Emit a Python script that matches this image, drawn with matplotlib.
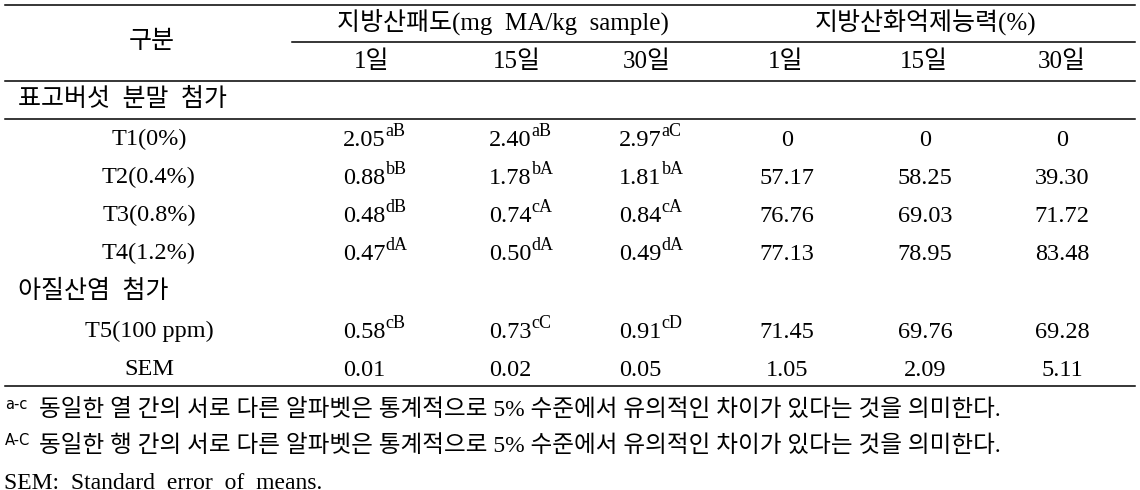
import matplotlib
matplotlib.use("Agg")
import matplotlib.pyplot as plt
from matplotlib.lines import Line2D

plt.rcParams['font.family'] = ['Liberation Serif', 'Noto Sans CJK KR']

W, H = 1140, 490

# ---- data ----
col_header_left = "구분"
group_headers = ["지방산패도(mg MA/kg sample)", "지방산화억제능력(%)"]
day_labels = ["1일", "15일", "30일", "1일", "15일", "30일"]
group_labels = ["표고버섯 분말 첨가", "아질산염 첨가"]
row_labels = ["T1(0%)", "T2(0.4%)", "T3(0.8%)", "T4(1.2%)", "T5(100 ppm)", "SEM"]

tbars_d1 = [2.05, 0.88, 0.48, 0.47, 0.58, 0.01]
tbars_d15 = [2.40, 1.78, 0.74, 0.50, 0.73, 0.02]
tbars_d30 = [2.97, 1.81, 0.84, 0.49, 0.91, 0.05]
sup_d1 = ["aB", "bB", "dB", "dA", "cB", ""]
sup_d15 = ["aB", "bA", "cA", "dA", "cC", ""]
sup_d30 = ["aC", "bA", "cA", "dA", "cD", ""]
inhib_d1 = [0, 57.17, 76.76, 77.13, 71.45, 1.05]
inhib_d15 = [0, 58.25, 69.03, 78.95, 69.76, 2.09]
inhib_d30 = [0, 39.30, 71.72, 83.48, 69.28, 5.11]

footnotes = [
    ("a-c", "동일한 열 간의 서로 다른 알파벳은 통계적으로 5% 수준에서 유의적인 차이가 있다는 것을 의미한다."),
    ("A-C", "동일한 행 간의 서로 다른 알파벳은 통계적으로 5% 수준에서 유의적인 차이가 있다는 것을 의미한다."),
    ("", "SEM: Standard error of means."),
]

EN = "\u2002"


def wide(s, sp=EN):
    return s.replace(" ", sp)


# ---- layout (pixels) ----
fig = plt.figure(figsize=(W / 100, H / 100), dpi=100)
fig.patch.set_facecolor("white")

FS_HEAD = 18
FS_ROW = 17.5
FS_NUM = 17.5
FS_SUP = 13
FS_NOTE = 17
FS_NOTE_LAT = 17


def fx(x):
    return x / W


def fy(y):
    return 1 - y / H


def hline(x0, x1, y, lw=1.1):
    fig.add_artist(Line2D([fx(x0), fx(x1)], [fy(y), fy(y)],
                          transform=fig.transFigure, color="black", lw=lw))


def txt(x, y, s, ha="center", va="center", size=FS_NUM, **kw):
    return fig.text(fx(x), fy(y), s, ha=ha, va=va, fontsize=size, color="black", **kw)


# rules
hline(5, 1135, 5)
hline(292, 1135, 42)
hline(5, 1135, 81)
hline(5, 1135, 119)
hline(5, 1135, 386)

# headers
txt(152, 42, col_header_left, size=FS_HEAD)
txt(503, 22, wide(group_headers[0]), size=FS_HEAD)
txt(926, 22, group_headers[1], size=FS_HEAD)
head_x = [372, 517, 647, 786, 924, 1062]
for x, s in zip(head_x, day_labels):
    txt(x, 62, s, size=FS_HEAD)

# group labels
txt(18, 100, wide(group_labels[0]), ha="left", size=FS_HEAD)
txt(18, 291, wide(group_labels[1]), ha="left", size=FS_HEAD)

row_y = [137, 175, 213, 251, 329, 367]
label_x = 149
for y, s in zip(row_y, row_labels):
    txt(label_x, y + 8, s, va="baseline", size=FS_ROW)

num_x = [364, 510, 640, 787, 925, 1062]
renderer = fig.canvas.get_renderer()

tbars_cols = [(tbars_d1, sup_d1), (tbars_d15, sup_d15), (tbars_d30, sup_d30)]
for ci, (vals, sups) in enumerate(tbars_cols):
    for y, v, sp in zip(row_y, vals, sups):
        base = y + 9
        t = txt(num_x[ci], base, f"{v:.2f}", va="baseline")
        if sp:
            bb = t.get_window_extent(renderer=renderer)
            xs = bb.x1 * 100 / fig.dpi + 0.5
            txt(xs, base - 10, sp, ha="left", va="baseline", size=FS_SUP)

inhib_cols = [inhib_d1, inhib_d15, inhib_d30]
for ci, vals in enumerate(inhib_cols):
    for y, v in zip(row_y, vals):
        s = "0" if v == 0 else f"{v:.2f}"
        txt(num_x[3 + ci], y + 9, s, va="baseline")

# footnotes
note_y = [410, 446, 483]
for (sup, body), y in zip(footnotes, note_y):
    if sup:
        txt(5, y - 6, sup, ha="left", size=10.5, family=["DejaVu Sans"])
        txt(39, y, body, ha="left", size=FS_NOTE)
    else:
        txt(4, y, wide(body), ha="left", size=FS_NOTE_LAT)

fig.savefig("out.png", dpi=100, facecolor="white")
